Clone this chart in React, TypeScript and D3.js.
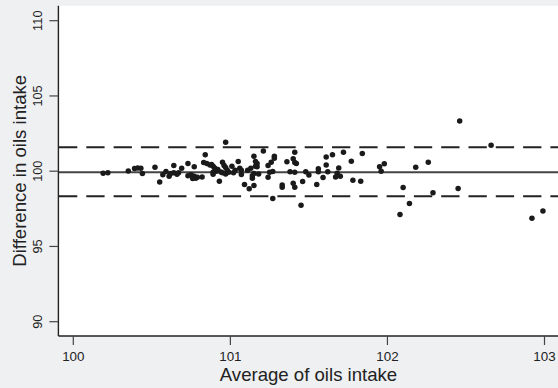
import React from 'react';
import * as d3 from 'd3';

const W = 558;
const H = 388;

// average of the two measurements (x) and their difference (y)
const AVG_X = [
  100.19, 100.22, 100.35, 100.39, 100.41, 100.43, 100.44, 100.52, 100.55, 100.57,
  100.59, 100.61, 100.62, 100.64, 100.64, 100.66, 100.67, 100.69, 100.73, 100.73,
  100.75, 100.76, 100.77, 100.77, 100.78, 100.79, 100.82, 100.84, 100.83, 100.85,
  100.87, 100.89, 100.90, 100.89, 100.91, 100.89, 100.93, 100.95, 100.96, 100.97,
  100.98, 100.95, 100.97, 100.99, 100.97, 101.01, 101.02, 101.03, 101.05, 101.06,
  101.07, 101.07, 101.09, 101.11, 101.12, 101.14, 101.15, 101.15, 101.15, 101.16,
  101.17, 101.18, 101.17, 101.21, 101.24, 101.24, 101.25, 101.26, 101.27, 101.28,
  101.28, 101.27, 101.33, 101.33, 101.36, 101.38, 101.40, 101.41, 101.41, 101.42,
  101.41, 101.40, 101.41, 101.45, 101.46, 101.48, 101.50, 101.55, 101.56, 101.56,
  101.59, 101.61, 101.61, 101.62, 101.65, 101.67, 101.68, 101.69, 101.70, 101.72,
  101.77, 101.78, 101.83, 101.84, 101.95, 101.96, 101.98, 102.08, 102.10, 102.14,
  102.18, 102.26, 102.29, 102.45, 102.46, 102.66, 102.92, 102.99,
  100.88, 100.92, 100.94, 101.13, 101.16, 101.14,
];
const DIFF_Y = [
  99.87, 99.89, 100.02, 100.18, 100.22, 100.20, 99.84, 100.27, 99.29, 99.76,
  99.98, 99.67, 99.84, 100.38, 99.89, 99.80, 99.89, 100.20, 100.51, 99.69,
  99.76, 99.51, 100.29, 99.67, 99.53, 99.60, 99.62, 101.09, 100.58, 100.51,
  100.42, 100.33, 100.22, 99.93, 100.00, 99.80, 99.34, 100.60, 100.38, 100.24,
  100.07, 99.89, 99.82, 99.93, 101.93, 100.33, 99.89, 100.07, 100.64, 100.20,
  99.78, 100.07, 99.11, 100.07, 98.83, 99.53, 99.05, 99.84, 101.00, 100.33,
  100.51, 99.82, 100.29, 101.35, 100.38, 99.60, 99.93, 100.60, 99.98, 101.00,
  100.86, 98.18, 99.09, 98.94, 100.62, 99.96, 100.82, 101.26, 100.58, 100.51,
  99.93, 99.20, 98.94, 97.74, 99.31, 99.96, 99.74, 99.11, 100.16, 99.96,
  99.58, 100.95, 100.42, 99.96, 101.09, 99.62, 99.87, 100.22, 99.67, 101.26,
  100.66, 99.40, 99.33, 101.17, 100.29, 100.00, 100.49, 97.12, 98.91, 97.85,
  100.27, 100.60, 98.56, 98.85, 103.34, 101.73, 96.88, 97.36,
  100.45, 100.12, 99.95, 100.20, 100.65, 99.70,
];

const MEAN_DIFF = 99.93;
const LIMITS = [101.59, 98.34];

const X_TICKS = [100, 101, 102, 103];
const Y_TICKS = [90, 95, 100, 105, 110];

const PLOT = { left: 58.4, top: 5.7, bottom: 336 };

export default function App() {
  const x = d3.scaleLinear().domain([100, 103]).range([73.3, 544.5]);
  const y = d3.scaleLinear().domain([90, 110]).range([321.7, 20.7]);
  const font = "'Liberation Sans', Arial, Helvetica, sans-serif";

  return (
    <div>
      <style>{'body{margin:0}'}</style>
      <svg width={W} height={H} style={{ display: 'block' }} fontFamily={font}>
        <rect width={W} height={H} fill="#eff0f2" />
        <rect x={PLOT.left} y={PLOT.top} width={W - PLOT.left} height={PLOT.bottom - PLOT.top} fill="#fff" />

        {/* limits of agreement and mean difference */}
        {LIMITS.map((v) => (
          <line
            key={v}
            x1={PLOT.left + 0.6}
            x2={W}
            y1={y(v)}
            y2={y(v)}
            stroke="#222"
            strokeWidth={1.9}
            strokeDasharray="18.3 9"
          />
        ))}
        <line x1={PLOT.left} x2={W} y1={y(MEAN_DIFF)} y2={y(MEAN_DIFF)} stroke="#444" strokeWidth={1.8} />

        {AVG_X.map((v, i) => (
          <circle key={i} cx={x(v)} cy={y(DIFF_Y[i])} r={2.75} fill="#1a1a1a" />
        ))}

        {/* axes */}
        <line x1={PLOT.left} x2={PLOT.left} y1={PLOT.top} y2={PLOT.bottom} stroke="#222" strokeWidth={1.4} />
        <line x1={PLOT.left} x2={W} y1={PLOT.bottom} y2={PLOT.bottom} stroke="#222" strokeWidth={1.4} />

        {Y_TICKS.map((t) => (
          <g key={t}>
            <line x1={PLOT.left - 9} x2={PLOT.left} y1={y(t)} y2={y(t)} stroke="#444" strokeWidth={1.2} />
            <text
              transform={`translate(41.5, ${y(t)}) rotate(-90)`}
              textAnchor="middle"
              fontSize={12.8}
              fill="#222"
            >
              {t}
            </text>
          </g>
        ))}
        {X_TICKS.map((t) => (
          <g key={t}>
            <line x1={x(t)} x2={x(t)} y1={PLOT.bottom} y2={PLOT.bottom + 9} stroke="#444" strokeWidth={1.2} />
            <text x={x(t)} y={361} textAnchor="middle" fontSize={13.4} fill="#222">
              {t}
            </text>
          </g>
        ))}

        <text x={308.5} y={381} textAnchor="middle" fontSize={18.6} fill="#222">
          Average of oils intake
        </text>
        <text
          transform={`translate(25.6, 170.8) rotate(-90)`}
          textAnchor="middle"
          fontSize={18.6}
          fill="#222"
        >
          Difference in oils intake
        </text>
      </svg>
    </div>
  );
}
